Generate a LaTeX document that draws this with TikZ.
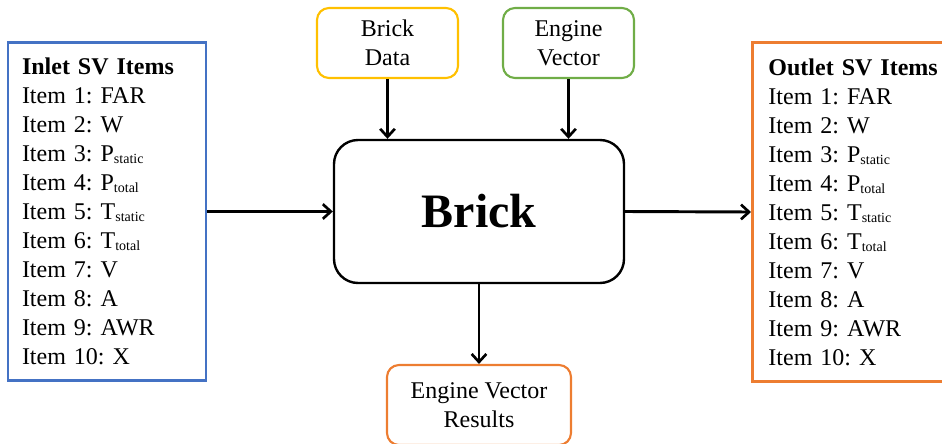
\documentclass[tikz,border=0pt]{standalone}
\usepackage{fontspec}
\setmainfont{Liberation Serif}
\usetikzlibrary{arrows.meta, positioning}
\frenchspacing

\definecolor{inblue}{HTML}{4472C4}
\definecolor{outorange}{HTML}{ED7D31}
\definecolor{datayellow}{HTML}{FFC000}
\definecolor{vecgreen}{HTML}{70AD47}

\newcommand{\svsub}[1]{\raisebox{-0.2ex}{\fontsize{10.5}{12}\selectfont #1}}

\begin{document}
\begin{tikzpicture}[
    x=0.75pt, y=-0.75pt,
    svlist/.style={
        rectangle, draw, line width=2.2pt, minimum height=254pt,
        align=left, inner ysep=0pt, font=\fontsize{18}{21.75}\selectfont
    },
    inbox/.style={
        rectangle, rounded corners=9pt, draw, line width=1.6pt,
        minimum height=52.5pt, align=center, font=\fontsize{18}{21.75}\selectfont
    },
    flow/.style={line width=2.2pt, -{Straight Barb[length=6pt, width=11pt, line width=2pt]}},
]
\path[use as bounding box, clip] (0,0) rectangle (942,443);

% Inlet state vector (left)
\node[svlist, draw=inblue, text width=127.5pt, inner xsep=10.5pt] (inlet) at (107, 211.5)
    {\textbf{Inlet SV Items}\\
     Item 1: FAR\\
     Item 2: W\\
     Item 3: P\svsub{static}\\
     Item 4: P\svsub{total}\\
     Item 5: T\svsub{static}\\
     Item 6: T\svsub{total}\\
     Item 7: V\\
     Item 8: A\\
     Item 9: AWR\\
     Item 10: X};

% Outlet state vector (right, runs off the page)
\node[svlist, draw=outorange, text width=130pt, inner xsep=12pt, anchor=west] (outlet) at (751, 212)
    {\textbf{Outlet SV Items}\\
     Item 1: FAR\\
     Item 2: W\\
     Item 3: P\svsub{static}\\
     Item 4: P\svsub{total}\\
     Item 5: T\svsub{static}\\
     Item 6: T\svsub{total}\\
     Item 7: V\\
     Item 8: A\\
     Item 9: AWR\\
     Item 10: X};

% Brick (centre)
\node[rectangle, rounded corners=18pt, draw, line width=1.8pt,
      minimum width=217.5pt, minimum height=107.25pt,
      font=\fontsize{36}{40}\selectfont\bfseries] (brick) at (479, 211.5) {Brick};

% Inputs on top
\node[inbox, draw=datayellow, minimum width=105.75pt] (bdata) at (387.5, 43) {Brick\\Data};
\node[inbox, draw=vecgreen, minimum width=98.25pt] (evec) at (568.5, 43) {Engine\\Vector};

% Results below (runs off the page)
\node[inbox, draw=outorange, minimum width=138pt, minimum height=60pt] (evres) at (479, 405)
    {Engine Vector\\Results};

% Connectors
\draw[flow] (inlet.east) -- (brick.west);
\draw[flow] (brick.east) -- (outlet.west);
\draw[flow] (bdata.south) -- (bdata.south |- brick.north);
\draw[flow] (evec.south) -- (evec.south |- brick.north);
\draw[flow] (brick.south) -- (evres.north);

\end{tikzpicture}
\end{document}
